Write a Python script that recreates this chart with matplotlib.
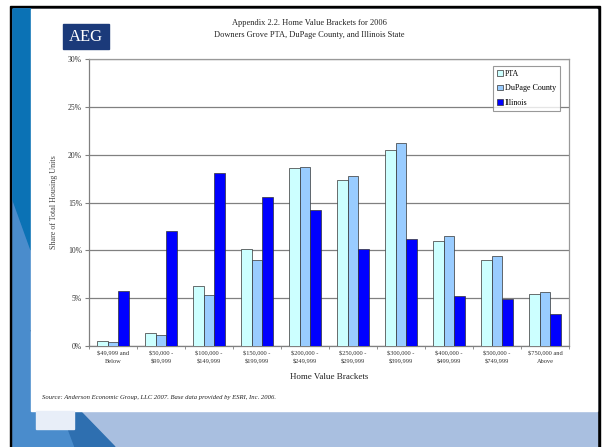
import numpy as np
import matplotlib
matplotlib.use('Agg')
import matplotlib.pyplot as plt
from matplotlib.patches import Rectangle, Polygon

# Categories and series values (share of housing units, %)
brackets = ['$49,999 and\nBelow', '$50,000 -\n$99,999', '$100,000 -\n$149,999',
            '$150,000 -\n$199,999', '$200,000 -\n$249,999', '$250,000 -\n$299,999',
            '$300,000 -\n$399,999', '$400,000 -\n$499,999', '$500,000 -\n$749,999',
            '$750,000 and\nAbove']
pta = [0.5, 1.4, 6.3, 10.1, 18.6, 17.4, 20.5, 11.0, 9.0, 5.4]
dupage = [0.4, 1.1, 5.3, 9.0, 18.7, 17.8, 21.2, 11.5, 9.4, 5.6]
illinois = [5.7, 12.0, 18.1, 15.6, 14.2, 10.1, 11.2, 5.2, 4.9, 3.3]
yticks = [0, 5, 10, 15, 20, 25, 30]

plt.rcParams['font.family'] = ['Liberation Serif', 'DejaVu Serif']

W, H = 602, 447
fig = plt.figure(figsize=(6.02, 4.47), dpi=100)

# slide background / frame (pixel coordinates)
bg = fig.add_axes([0, 0, 1, 1])
bg.set_xlim(0, W)
bg.set_ylim(H, 0)
bg.axis('off')
bg.add_patch(Rectangle((10, 6), 590, 441, color='black'))
bg.add_patch(Rectangle((13, 9), 584, 438, color='#a9bfe0'))
bg.add_patch(Polygon([(13, 9), (31, 9), (31, 330), (75, 447), (13, 447)], color='#4a8ccc'))
bg.add_patch(Polygon([(13, 9), (31, 9), (31, 250), (13, 200)], color='#0b72b5'))
bg.add_patch(Polygon([(31, 330), (50, 380), (115, 447), (75, 447)], color='#2e6fb0'))
bg.add_patch(Rectangle((31, 9), 566, 402, color='white'))
bg.add_patch(Rectangle((36, 411), 38, 18, color='#e8eef8'))
# AEG logo
bg.add_patch(Rectangle((63, 24), 46, 25, color='#1b3a7a'))
bg.text(86, 37, 'AEG', color='white', fontsize=12, ha='center', va='center')

bg.text(309, 23, 'Appendix 2.2. Home Value Brackets for 2006', fontsize=6,
        ha='center', va='center', color='#222222')
bg.text(309, 35, 'Downers Grove PTA, DuPage County, and Illinois State', fontsize=6,
        ha='center', va='center', color='#222222')
bg.text(42, 398, 'Source: Anderson Economic Group, LLC 2007. Base data provided by ESRI, Inc. 2006.',
        fontsize=4.8, style='italic', ha='left', va='center', color='#222222')

ax = fig.add_axes([89 / W, 1 - 346 / H, 480 / W, 287 / H])
x = np.arange(len(brackets))
w = 0.222
ax.bar(x - w, pta, w, color='#ccffff', edgecolor='#333333', linewidth=0.5, label='PTA', zorder=3)
ax.bar(x, dupage, w, color='#99ccff', edgecolor='#333333', linewidth=0.5, label='DuPage County', zorder=3)
ax.bar(x + w, illinois, w, color='#0000ff', edgecolor='#333333', linewidth=0.5, label='Illinois', zorder=3)

ax.set_xlim(-0.5, len(brackets) - 0.5)
ax.set_ylim(0, 30)
ax.set_yticks(yticks)
ax.set_yticklabels([f'{t}%' for t in yticks], fontsize=5.5, color='#333333')
ax.yaxis.grid(True, color='#808080', linewidth=0.9, zorder=0)
ax.set_xticks(x)
ax.set_xticklabels(brackets, fontsize=4.6, linespacing=1.6, color='#333333')
ax.set_xticks(np.arange(-0.5, len(brackets)), minor=True)
ax.tick_params(axis='x', which='major', length=0, pad=4)
ax.tick_params(axis='x', which='minor', length=2.5, color='#808080')
ax.tick_params(axis='y', length=3, color='#808080', pad=2)
for s in ax.spines.values():
    s.set_color('#999999')
    s.set_linewidth(0.9)
ax.spines['left'].set_color('#808080')
ax.spines['bottom'].set_color('#808080')
ax.set_xlabel('Home Value Brackets', fontsize=6.5, labelpad=6, color='#222222')
ax.set_ylabel('Share of Total Housing Units', fontsize=5.8, color='#444444', labelpad=7)

leg = ax.legend(loc='upper right', bbox_to_anchor=(0.99, 0.99), fontsize=5.8,
                frameon=True, fancybox=False, edgecolor='#808080',
                handlelength=0.7, handleheight=0.7, handletextpad=0.3,
                borderpad=0.5, labelspacing=0.8)
leg.get_frame().set_linewidth(0.8)

fig.savefig('out.png', dpi=100)
